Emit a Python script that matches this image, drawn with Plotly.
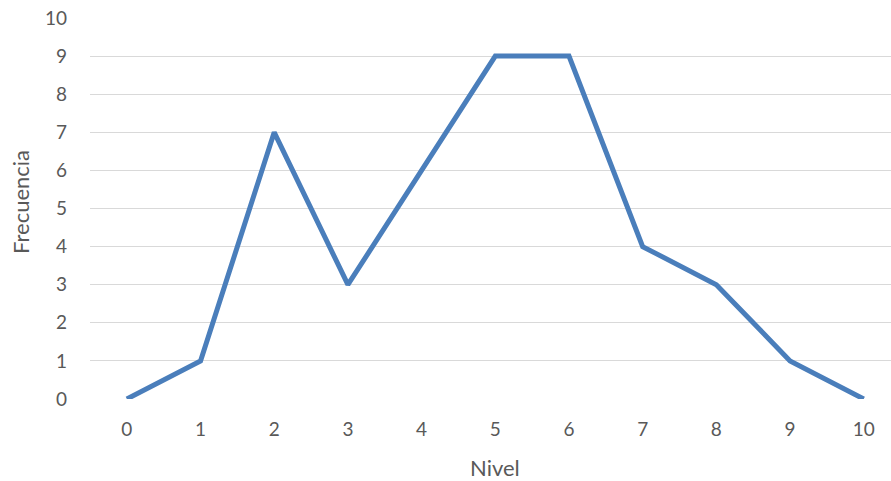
import plotly.graph_objects as go

# Frequency distribution by level
niveles = [0, 1, 2, 3, 4, 5, 6, 7, 8, 9, 10]
frecuencia = [0, 1, 7, 3, 6, 9, 9, 4, 3, 1, 0]
y_ticks = [0, 1, 2, 3, 4, 5, 6, 7, 8, 9, 10]

text_color = "#595959"
grid_color = "#d9d9d9"
font_family = "Lato, 'Open Sans', sans-serif"

fig = go.Figure()
fig.add_trace(go.Scatter(
    x=niveles,
    y=frecuencia,
    mode="lines",
    line=dict(color="#4a7ebb", width=5),
    cliponaxis=False,
    hoverinfo="x+y",
))

fig.update_layout(
    width=891,
    height=481,
    margin=dict(l=90, r=0, t=18, b=82),
    paper_bgcolor="white",
    plot_bgcolor="white",
    showlegend=False,
    font=dict(family=font_family, color=text_color, size=19),
    xaxis=dict(
        range=[-0.5, 10.37],
        tickmode="array",
        tickvals=niveles,
        ticktext=[str(v) for v in niveles],
        showgrid=False,
        zeroline=False,
        showline=False,
        ticks="",
        ticklabelstandoff=17,
    ),
    yaxis=dict(
        range=[0, 10],
        tickmode="array",
        tickvals=y_ticks,
        ticktext=[str(v) for v in y_ticks],
        showgrid=True,
        gridcolor=grid_color,
        gridwidth=1.3,
        zeroline=False,
        showline=False,
        ticks="",
        ticklabelstandoff=22,
    ),
    annotations=[
        dict(text="Nivel", xref="paper", yref="paper", x=0.505, y=-0.181,
             xanchor="center", yanchor="middle", showarrow=False,
             font=dict(size=22, color=text_color)),
        dict(text="Frecuencia", xref="paper", yref="paper", x=-0.0874, y=0.517,
             xanchor="center", yanchor="middle", textangle=-90, showarrow=False,
             font=dict(size=22, color=text_color)),
    ],
)

fig.write_html("out.html")
